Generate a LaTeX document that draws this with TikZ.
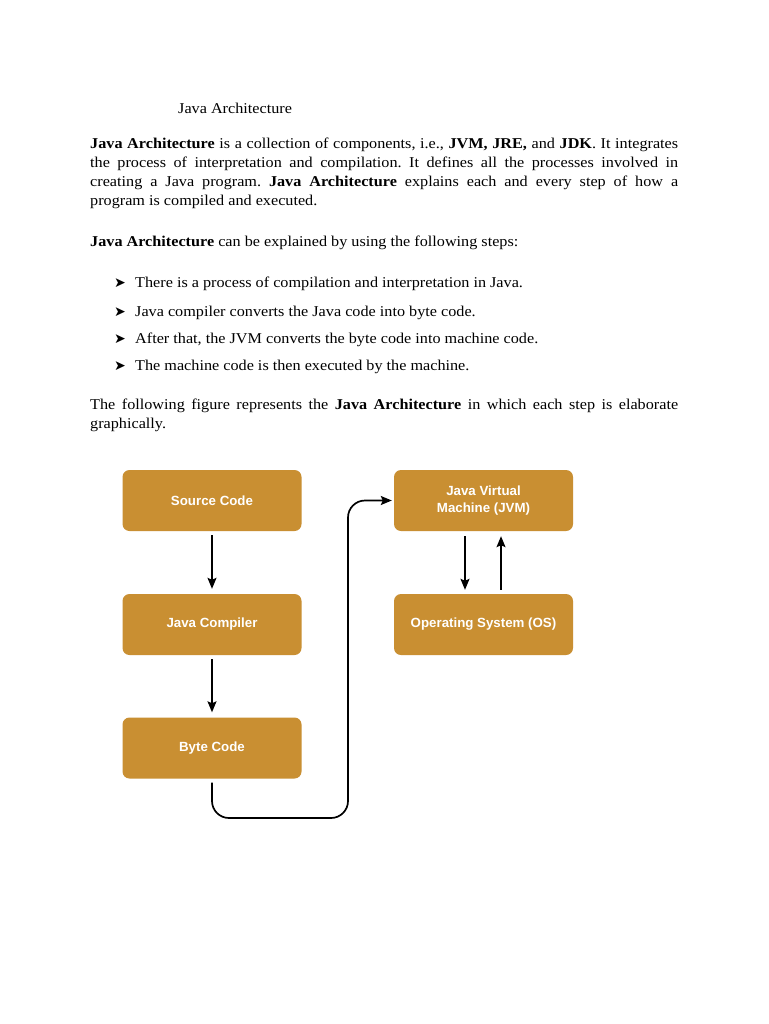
\documentclass[tikz,border=0pt]{standalone}
\usepackage{fontspec}
\setmainfont{Liberation Serif}[FakeStretch=1.08]
\newfontfamily\boxfont{Liberation Sans}
\newfontfamily\dejavu{DejaVu Sans}
\usetikzlibrary{arrows.meta}
\definecolor{boxcol}{HTML}{C98F32}
\frenchspacing
\begin{document}
\begin{tikzpicture}[x=1pt,y=-1pt,
  stepbox/.style={fill=boxcol,rounded corners=7pt,minimum width=179pt,minimum height=61pt,
    text=white,font=\boxfont\bfseries\fontsize{13.3}{17}\selectfont,align=center,inner sep=0pt},
  txt/.style={anchor=base west,inner sep=0pt,font=\fontsize{15}{19}\selectfont},
  para/.style={anchor=north west,inner sep=0pt,text width=588pt,align=justify,font=\fontsize{15}{19}\selectfont},
  bul/.style={anchor=base west,inner sep=0pt,font=\dejavu\fontsize{14}{14}\selectfont},
  arr/.style={-{Stealth[length=11pt,width=9pt,inset=2pt]},line width=1.5pt,black},
]
\useasboundingbox (0,0) rectangle (768,1024);
\fill[white] (0,0) rectangle (768,1024);

\node[txt] (title) at (178,114) {Java Architecture};

\node[para] (p1) at (90,138) {\textbf{Java Architecture} is a collection of components, i.e., \textbf{JVM, JRE,} and \textbf{JDK}. It integrates\linebreak
the process of interpretation and compilation. It defines all the processes involved in\linebreak
creating a Java program. \textbf{Java Architecture} explains each and every step of how a\linebreak
program is compiled and executed.};

\node[txt] (p2) at (90,246) {\textbf{Java Architecture} can be explained by using the following steps:};

\node[bul] (b1) at (114,287.5) {➤};
\node[txt] (t1) at (135,287.5) {There is a process of compilation and interpretation in Java.};
\node[bul] (b2) at (114,316) {➤};
\node[txt] (t2) at (135,316) {Java compiler converts the Java code into byte code.};
\node[bul] (b3) at (114,343.5) {➤};
\node[txt] (t3) at (135,343.5) {After that, the JVM converts the byte code into machine code.};
\node[bul] (b4) at (114,370.5) {➤};
\node[txt] (t4) at (135,370.5) {The machine code is then executed by the machine.};

\node[para] (p3) at (90,399) {The following figure represents the \textbf{Java Architecture} in which each step is elaborate\linebreak
graphically.};

\node[stepbox] (src) at (212,500.5) {Source Code};
\node[stepbox] (jc) at (212,624.5) {Java Compiler};
\node[stepbox] (bc) at (212,748) {Byte Code};
\node[stepbox] (jvm) at (483.5,500.5) {Java Virtual\\Machine (JVM)};
\node[stepbox] (os) at (483.5,624.5) {Operating System (OS)};

\draw[arr,shorten <=4pt,shorten >=5pt] (src) -- (jc);
\draw[arr,shorten <=4pt,shorten >=5pt] (jc) -- (bc);
\draw[arr,shorten <=5pt,shorten >=4pt] ([xshift=-18.5pt]jvm.south) -- ([xshift=-18.5pt]os.north);
\draw[arr,shorten <=4pt,shorten >=5pt] ([xshift=17.5pt]os.north) -- ([xshift=17.5pt]jvm.south);

\coordinate (c1) at (348,818);
\draw[arr,line width=1.7pt,rounded corners=17pt,shorten <=4pt,shorten >=2pt] (bc.south) |- (c1) |- (jvm.west);
\end{tikzpicture}
\end{document}
